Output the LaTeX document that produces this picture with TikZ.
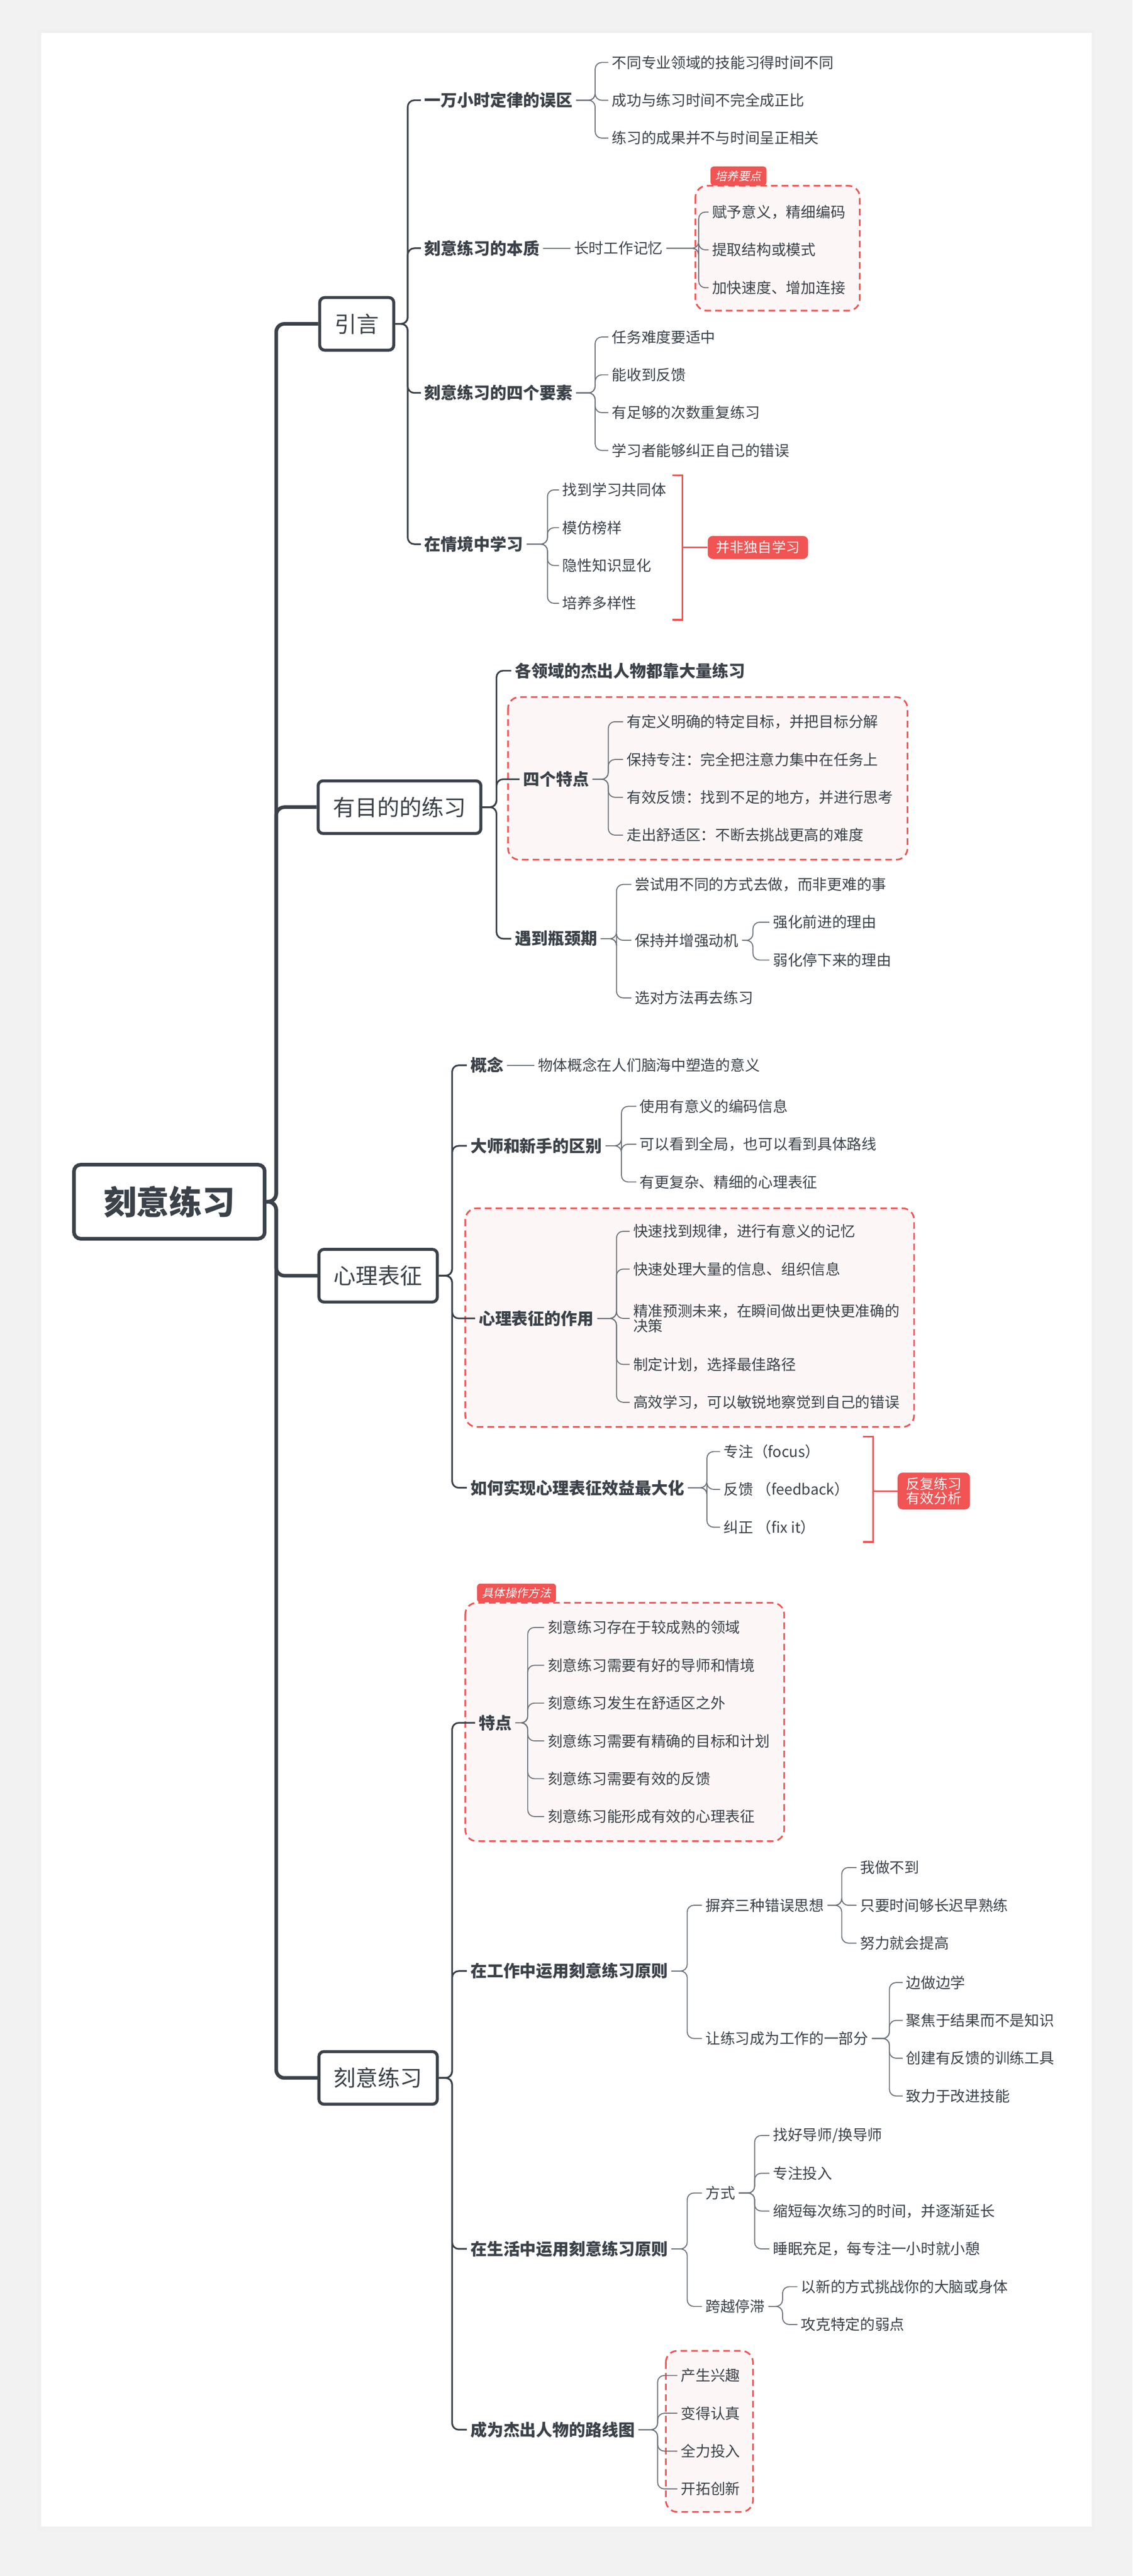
\documentclass[tikz,border=0pt]{standalone}
\usepackage{fontspec}
\setmainfont{Noto Sans CJK SC}
\newfontfamily\cjkit[FakeSlant=0.2]{Noto Sans CJK SC}
\usetikzlibrary{calc}
\definecolor{ink}{HTML}{3A4149}
\definecolor{gln}{HTML}{6B7178}
\definecolor{rd}{HTML}{F25353}
\definecolor{pk}{HTML}{FDF6F6}
\definecolor{bg}{HTML}{F2F2F2}
\newcommand\cn[4]{\path (#3,0) coordinate (tmpx); \draw[#4] (#1.east) -- (#1.east -| tmpx) |- (#2.west);}
\newcommand\fz[1]{\fontsize{#1}{#1}\selectfont}
\begin{document}
\begin{tikzpicture}[x=1pt,y=-1pt,
 lvz/.style={draw=ink,text=ink,line width=2.2pt,rounded corners=4pt,font=\fz{20}\bfseries,minimum width=116pt,minimum height=45pt,fill=white},
 lvo/.style={draw=ink,text=ink,line width=1.8pt,rounded corners=3pt,font=\fz{13.5},minimum height=32pt,inner xsep=9pt,fill=white},
 lvt/.style={anchor=west,text=ink,font=\fz{10}\bfseries,inner xsep=2pt,inner ysep=1pt},
 lf/.style={anchor=west,text=ink,font=\fz{9},inner xsep=2pt,inner ysep=1pt},
 thk/.style={draw=ink,line width=2.2pt,rounded corners=5pt},
 med/.style={draw=ink,line width=1pt,rounded corners=4pt},
 thn/.style={draw=gln,line width=0.6pt,rounded corners=4pt},
 dbox/.style={draw=rd,fill=pk,dashed,line width=1pt,dash pattern=on 4pt off 2.5pt,rounded corners=7pt},
 tag/.style={fill=rd,text=white,font=\fz{7}\cjkit,rounded corners=2pt,inner xsep=3pt,inner ysep=2.5pt},
 rlab/.style={fill=rd,text=white,font=\fz{8.5},rounded corners=3pt,inner xsep=5pt,inner ysep=3pt,align=center},
 brk/.style={draw=rd,line width=1pt}]
\useasboundingbox (0,0) rectangle (689,1567);
\fill[bg] (0,0) rectangle (689,1567);
\fill[black!6] (23,18) rectangle (666,1540);
\fill[white] (25,20) rectangle (664,1537);
% dashed boxes
\draw[dbox] (423,113) rectangle (523,189);
\node[tag,anchor=south west] (t1) at (432,113) {培养要点};
\draw[dbox] (309,424) rectangle (552,523);
\draw[dbox] (283,735) rectangle (556,868);
\draw[dbox] (283,975) rectangle (477,1120);
\node[tag,anchor=south west] (t2) at (290,975) {具体操作方法};
\draw[dbox] (405,1430) rectangle (458,1528);
% root & level 1
\node[lvz] (R) at (103,731) {刻意练习};
\node[lvo] (A) at (217,197) {引言};
\node[lvo] (B) at (243,491) {有目的的练习};
\node[lvo] (C) at (230,776) {心理表征};
\node[lvo] (D) at (230,1264) {刻意练习};
\foreach \n in {A,B,C,D}{\cn{R}{\n}{168}{thk}}
% ---- A
\node[lvt] (A1) at (256,61) {一万小时定律的误区};
\node[lvt] (A2) at (256,151) {刻意练习的本质};
\node[lvt] (A3) at (256,239) {刻意练习的四个要素};
\node[lvt] (A4) at (256,331) {在情境中学习};
\foreach \n in {A1,A2,A3,A4}{\cn{A}{\n}{248}{med}}
\node[lf] (A11) at (370,38) {不同专业领域的技能习得时间不同};
\node[lf] (A12) at (370,61) {成功与练习时间不完全成正比};
\node[lf] (A13) at (370,84) {练习的成果并不与时间呈正相关};
\foreach \n in {A11,A12,A13}{\cn{A1}{\n}{362}{thn}}
\node[lf] (A21) at (347,151) {长时工作记忆};
\draw[thn] (A2.east) -- (A2.east -| A21.west);
\node[lf] (A211) at (431,129) {赋予意义，精细编码};
\node[lf] (A212) at (431,152) {提取结构或模式};
\node[lf] (A213) at (431,175) {加快速度、增加连接};
\foreach \n in {A211,A212,A213}{\cn{A21}{\n}{425}{thn}}
\node[lf] (A31) at (370,205) {任务难度要适中};
\node[lf] (A32) at (370,228) {能收到反馈};
\node[lf] (A33) at (370,251) {有足够的次数重复练习};
\node[lf] (A34) at (370,274) {学习者能够纠正自己的错误};
\foreach \n in {A31,A32,A33,A34}{\cn{A3}{\n}{362}{thn}}
\node[lf] (A41) at (340,298) {找到学习共同体};
\node[lf] (A42) at (340,321) {模仿榜样};
\node[lf] (A43) at (340,344) {隐性知识显化};
\node[lf] (A44) at (340,367) {培养多样性};
\foreach \n in {A41,A42,A43,A44}{\cn{A4}{\n}{333}{thn}}
\node[rlab] (L1) at (461,333) {并非独自学习};
\coordinate (b1a) at (409,289); \coordinate (b1b) at (409,377); \coordinate (b1m) at (415,333);
\draw[brk] (b1a) -- (b1a -| b1m) -- (b1b -| b1m) -- (b1b);
\draw[brk] (b1m) -- (L1.west);
% ---- B
\node[lvt] (B1) at (311,408) {各领域的杰出人物都靠大量练习};
\node[lvt] (B2) at (316,474) {四个特点};
\node[lvt] (B3) at (311,571) {遇到瓶颈期};
\foreach \n in {B1,B2,B3}{\cn{B}{\n}{302}{med}}
\node[lf] (B21) at (379,439) {有定义明确的特定目标，并把目标分解};
\node[lf] (B22) at (379,462) {保持专注：完全把注意力集中在任务上};
\node[lf] (B23) at (379,485) {有效反馈：找到不足的地方，并进行思考};
\node[lf] (B24) at (379,508) {走出舒适区：不断去挑战更高的难度};
\foreach \n in {B21,B22,B23,B24}{\cn{B2}{\n}{370}{thn}}
\node[lf] (B31) at (384,538) {尝试用不同的方式去做，而非更难的事};
\node[lf] (B32) at (384,572) {保持并增强动机};
\node[lf] (B33) at (384,607) {选对方法再去练习};
\foreach \n in {B31,B32,B33}{\cn{B3}{\n}{375}{thn}}
\node[lf] (B321) at (468,561) {强化前进的理由};
\node[lf] (B322) at (468,584) {弱化停下来的理由};
\foreach \n in {B321,B322}{\cn{B32}{\n}{458}{thn}}
% ---- C
\node[lvt] (C1) at (284,648) {概念};
\node[lvt] (C2) at (284,697) {大师和新手的区别};
\node[lvt] (C3) at (289,802) {心理表征的作用};
\node[lvt] (C4) at (284,905) {如何实现心理表征效益最大化};
\foreach \n in {C1,C2,C3,C4}{\cn{C}{\n}{275}{med}}
\node[lf] (C11) at (325,648) {物体概念在人们脑海中塑造的意义};
\draw[thn] (C1.east) -- (C1.east -| C11.west);
\node[lf] (C21) at (387,673) {使用有意义的编码信息};
\node[lf] (C22) at (387,696) {可以看到全局，也可以看到具体路线};
\node[lf] (C23) at (387,719) {有更复杂、精细的心理表征};
\foreach \n in {C21,C22,C23}{\cn{C2}{\n}{378}{thn}}
\node[lf] (C31) at (383,749) {快速找到规律，进行有意义的记忆};
\node[lf] (C32) at (383,772) {快速处理大量的信息、组织信息};
\node[lf,align=left] (C33) at (383,802) {精准预测未来，在瞬间做出更快更准确的\\决策};
\node[lf] (C34) at (383,830) {制定计划，选择最佳路径};
\node[lf] (C35) at (383,853) {高效学习，可以敏锐地察觉到自己的错误};
\foreach \n in {C31,C32,C33,C34,C35}{\cn{C3}{\n}{375}{thn}}
\node[lf] (C41) at (438,883) {专注（focus）};
\node[lf] (C42) at (438,906) {反馈 （feedback）};
\node[lf] (C43) at (438,929) {纠正 （fix it）};
\foreach \n in {C41,C42,C43}{\cn{C4}{\n}{430}{thn}}
\node[rlab] (L2) at (568,907) {反复练习\\有效分析};
\coordinate (b2a) at (525,874); \coordinate (b2b) at (525,938); \coordinate (b2m) at (531,907);
\draw[brk] (b2a) -- (b2a -| b2m) -- (b2b -| b2m) -- (b2b);
\draw[brk] (b2m) -- (L2.west);
% ---- D
\node[lvt] (D1) at (289,1048) {特点};
\node[lvt] (D2) at (284,1199) {在工作中运用刻意练习原则};
\node[lvt] (D3) at (284,1368) {在生活中运用刻意练习原则};
\node[lvt] (D4) at (284,1478) {成为杰出人物的路线图};
\foreach \n in {D1,D2,D3,D4}{\cn{D}{\n}{275}{med}}
\node[lf] (D11) at (331,990) {刻意练习存在于较成熟的领域};
\node[lf] (D12) at (331,1013) {刻意练习需要有好的导师和情境};
\node[lf] (D13) at (331,1036) {刻意练习发生在舒适区之外};
\node[lf] (D14) at (331,1059) {刻意练习需要有精确的目标和计划};
\node[lf] (D15) at (331,1082) {刻意练习需要有效的反馈};
\node[lf] (D16) at (331,1105) {刻意练习能形成有效的心理表征};
\foreach \n in {D11,D12,D13,D14,D15,D16}{\cn{D1}{\n}{321}{thn}}
\node[lf] (D21) at (427,1159) {摒弃三种错误思想};
\node[lf] (D22) at (427,1240) {让练习成为工作的一部分};
\foreach \n in {D21,D22}{\cn{D2}{\n}{418}{thn}}
\node[lf] (D211) at (521,1136) {我做不到};
\node[lf] (D212) at (521,1159) {只要时间够长迟早熟练};
\node[lf] (D213) at (521,1182) {努力就会提高};
\foreach \n in {D211,D212,D213}{\cn{D21}{\n}{512}{thn}}
\node[lf] (D221) at (549,1206) {边做边学};
\node[lf] (D222) at (549,1229) {聚焦于结果而不是知识};
\node[lf] (D223) at (549,1252) {创建有反馈的训练工具};
\node[lf] (D224) at (549,1275) {致力于改进技能};
\foreach \n in {D221,D222,D223,D224}{\cn{D22}{\n}{541}{thn}}
\node[lf] (D31) at (427,1334) {方式};
\node[lf] (D32) at (427,1403) {跨越停滞};
\foreach \n in {D31,D32}{\cn{D3}{\n}{418}{thn}}
\node[lf] (D311) at (468,1299) {找好导师/换导师};
\node[lf] (D312) at (468,1322) {专注投入};
\node[lf] (D313) at (468,1345) {缩短每次练习的时间，并逐渐延长};
\node[lf] (D314) at (468,1368) {睡眠充足，每专注一小时就小憩};
\foreach \n in {D311,D312,D313,D314}{\cn{D31}{\n}{459}{thn}}
\node[lf] (D321) at (485,1391) {以新的方式挑战你的大脑或身体};
\node[lf] (D322) at (485,1414) {攻克特定的弱点};
\foreach \n in {D321,D322}{\cn{D32}{\n}{476}{thn}}
\node[lf] (D41) at (412,1445) {产生兴趣};
\node[lf] (D42) at (412,1468) {变得认真};
\node[lf] (D43) at (412,1491) {全力投入};
\node[lf] (D44) at (412,1514) {开拓创新};
\foreach \n in {D41,D42,D43,D44}{\cn{D4}{\n}{400}{thn}}
\end{tikzpicture}
\end{document}
